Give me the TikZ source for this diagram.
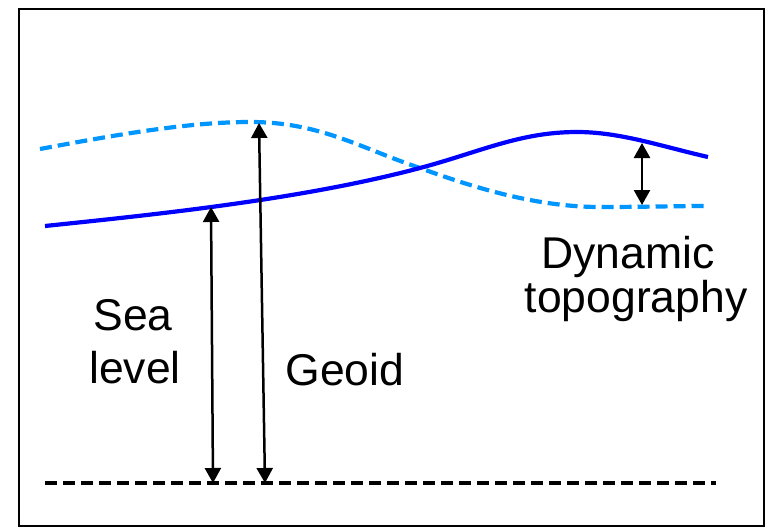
\documentclass[tikz,border=0pt]{standalone}
\usepackage{fontspec}
\setmainfont{Liberation Sans}
\usetikzlibrary{arrows.meta}
\definecolor{sealine}{RGB}{0,0,255}
\definecolor{geoidline}{RGB}{0,150,255}
\begin{document}
\begin{tikzpicture}[x=1pt,y=-1pt,
  frame/.style={draw=black,line width=2.5pt},
  sealevel/.style={draw=sealine,line width=4.2pt},
  geoid/.style={draw=geoidline,line width=4.2pt,dash pattern=on 12pt off 6pt},
  ref/.style={draw=black,line width=3.8pt,dash pattern=on 12pt off 6pt},
  meas/.style={draw=black,line width=2.5pt,{Triangle[width=16pt,length=15pt]}-{Triangle[width=16pt,length=15pt]}},
  lbl/.style={anchor=base,inner sep=0pt,font=\fontsize{44.5}{52}\selectfont}]
\useasboundingbox (0,0) rectangle (771,527);
\fill[white] (0,0) rectangle (771,527);
\draw[frame] (19,9) rectangle (764,526);
% reference (dashed) baseline
\coordinate (b0) at (45,483);
\coordinate (b1) at (716,483);
\draw[ref] (b0) -- (b1);
% geoid (light blue dashed)
\draw[geoid] (40,149) .. controls (120,134) and (190,122) .. (250,122)
  .. controls (320,122) and (360,148) .. (420,168)
  .. controls (480,190) and (540,207) .. (600,207)
  .. controls (640,207) and (680,206) .. (705,206);
% sea level (solid blue)
\draw[sealevel] (45,226) .. controls (150,215) and (300,200) .. (420,168)
  .. controls (480,152) and (520,132) .. (577,132)
  .. controls (620,132) and (660,146) .. (708,157);
% arrows
\coordinate (slb) at (213,483);
\coordinate (slt) at (211,207);
\coordinate (gb) at (265,483);
\coordinate (gt) at (259,123);
\coordinate (dtt) at (642,143);
\coordinate (dtb) at (642,205);
\draw[meas] (slb) -- (slt);
\draw[meas] (gb) -- (gt);
\draw[meas] (dtt) -- (dtb);
% labels
\node[lbl] (sea) at (133,330) {Sea};
\node[lbl] (level) at (135,383) {level};
\node[lbl] (geo) at (345,385) {Geoid};
\node[lbl] (dyn) at (628,268) {Dynamic};
\node[lbl] (topo) at (636,312) {topography};
\end{tikzpicture}
\end{document}
